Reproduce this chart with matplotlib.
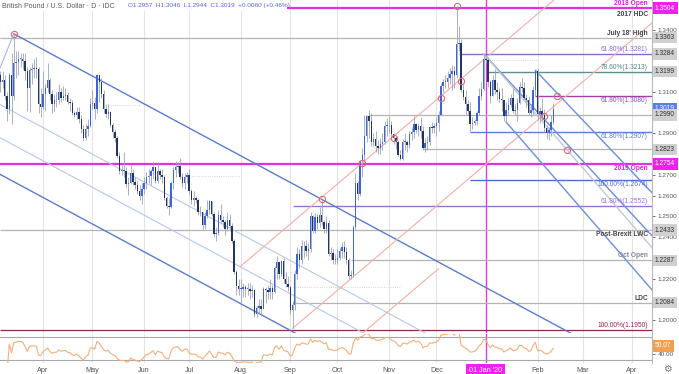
import numpy as np
import pandas as pd
import matplotlib
matplotlib.use('Agg')
import matplotlib.pyplot as plt
from matplotlib.patches import Rectangle
from matplotlib.transforms import blended_transform_factory

plt.rcParams['font.family'] = ['Liberation Sans', 'DejaVu Sans']

# GBP/USD daily bars, 5 Mar 2019 -> 12 Feb 2020 (weekdays)
first_open = 1.3180
closes = [
    # Mar
    1.3150, 1.3160, 1.3080, 1.3020, 1.3180, 1.3080, 1.3240, 1.3245, 1.3260, 1.3260,
    1.3250, 1.3200, 1.3120, 1.3205, 1.3210, 1.3215, 1.3210, 1.3040, 1.3030,
    # Apr
    1.3090, 1.3120, 1.3160, 1.3090, 1.3040, 1.3060, 1.3060, 1.3100, 1.3070, 1.3080,
    1.3085, 1.3050, 1.3045, 1.3000, 1.2990, 1.3005, 1.2970, 1.2920, 1.2880, 1.2920,
    1.2935, 1.3040,
    # May
    1.3045, 1.3020, 1.3180, 1.3150, 1.3090, 1.3020, 1.2995, 1.3005, 1.2940, 1.2905,
    1.2880, 1.2790, 1.2720, 1.2720, 1.2720, 1.2655, 1.2660, 1.2710, 1.2665, 1.2650,
    1.2620, 1.2600, 1.2630,
    # Jun
    1.2660, 1.2690, 1.2695, 1.2720, 1.2740, 1.2670, 1.2720, 1.2700, 1.2690, 1.2590,
    1.2550, 1.2545, 1.2660, 1.2725, 1.2740, 1.2745, 1.2690, 1.2660, 1.2690, 1.2700,
    # Jul
    1.2620, 1.2580, 1.2590, 1.2580, 1.2520, 1.2520, 1.2460, 1.2500, 1.2530, 1.2575,
    1.2510, 1.2415, 1.2420, 1.2505, 1.2480, 1.2475, 1.2440, 1.2480, 1.2455, 1.2380,
    1.2230, 1.2165, 1.2150,
    # Aug
    1.2150, 1.2160, 1.2150, 1.2150, 1.2140, 1.2145, 1.2030, 1.2060, 1.2065, 1.2055,
    1.2150, 1.2145, 1.2135, 1.2155, 1.2135, 1.2250, 1.2280, 1.2220, 1.2285, 1.2200,
    1.2175, 1.2160,
    # Sep
    1.2050, 1.2070, 1.2220, 1.2320, 1.2290, 1.2355, 1.2355, 1.2335, 1.2340, 1.2500,
    1.2430, 1.2495, 1.2470, 1.2505, 1.2475, 1.2440, 1.2470, 1.2320, 1.2325, 1.2290,
    1.2290,
    # Oct
    1.2300, 1.2335, 1.2350, 1.2330, 1.2290, 1.2210, 1.2215, 1.2450, 1.2660, 1.2610,
    1.2765, 1.2795, 1.2890, 1.2985, 1.2960, 1.2860, 1.2875, 1.2840, 1.2830, 1.2850,
    1.2860, 1.2935, 1.2940,
    # Nov
    1.2940, 1.2895, 1.2880, 1.2860, 1.2795, 1.2775, 1.2860, 1.2860, 1.2845, 1.2895,
    1.2905, 1.2945, 1.2915, 1.2935, 1.2910, 1.2830, 1.2855, 1.2860, 1.2930, 1.2925,
    1.2935,
    # Dec
    1.2950, 1.2990, 1.3130, 1.3150, 1.3150, 1.3170, 1.3185, 1.3200, 1.3180, 1.3330,
    1.3335, 1.3110, 1.3075, 1.3040, 1.3010, 1.2945, 1.2950, 1.2960, 1.3000, 1.3080,
    1.3115, 1.3260,
    # Jan
    1.3255, 1.3150, 1.3080, 1.3160, 1.3110, 1.3100, 1.3065, 1.3060, 1.2985, 1.3015,
    1.3035, 1.3070, 1.3010, 1.3015, 1.3045, 1.3125, 1.3120, 1.3070, 1.3060, 1.3000,
    1.3015, 1.3110, 1.3200,
    # Feb
    1.2995, 1.3010, 1.2990, 1.2925, 1.2900, 1.2915, 1.2957, 1.3019,
]
highs = [
    1.3200, 1.3200, 1.3180, 1.3100, 1.3190, 1.3290, 1.3381, 1.3300, 1.3300, 1.3290,
    1.3290, 1.3290, 1.3220, 1.3220, 1.3240, 1.3260, 1.3270, 1.3220, 1.3120,
    1.3200, 1.3140, 1.3240, 1.3170, 1.3110, 1.3090, 1.3100, 1.3140, 1.3120, 1.3130,
    1.3120, 1.3100, 1.3070, 1.3060, 1.3010, 1.3030, 1.3030, 1.2990, 1.2940, 1.2945,
    1.2970, 1.3070,
    1.3110, 1.3075, 1.3186, 1.3180, 1.3170, 1.3110, 1.3040, 1.3040, 1.3010, 1.2950,
    1.2920, 1.2890, 1.2810, 1.2750, 1.2810, 1.2740, 1.2690, 1.2750, 1.2730, 1.2690,
    1.2670, 1.2650, 1.2660,
    1.2690, 1.2715, 1.2730, 1.2730, 1.2760, 1.2740, 1.2760, 1.2730, 1.2730, 1.2700,
    1.2600, 1.2590, 1.2670, 1.2740, 1.2765, 1.2760, 1.2783, 1.2710, 1.2710, 1.2715,
    1.2730, 1.2630, 1.2620, 1.2600, 1.2590, 1.2550, 1.2520, 1.2520, 1.2580, 1.2580,
    1.2575, 1.2520, 1.2450, 1.2530, 1.2560, 1.2500, 1.2480, 1.2520, 1.2510, 1.2470,
    1.2390, 1.2240, 1.2200,
    1.2200, 1.2180, 1.2170, 1.2180, 1.2180, 1.2170, 1.2150, 1.2070, 1.2100, 1.2100,
    1.2160, 1.2160, 1.2170, 1.2200, 1.2170, 1.2260, 1.2310, 1.2280, 1.2290, 1.2300,
    1.2230, 1.2210,
    1.2165, 1.2090, 1.2240, 1.2350, 1.2340, 1.2385, 1.2380, 1.2385, 1.2370, 1.2520,
    1.2505, 1.2515, 1.2510, 1.2545, 1.2582, 1.2480, 1.2500, 1.2480, 1.2350, 1.2340,
    1.2320,
    1.2340, 1.2345, 1.2375, 1.2380, 1.2350, 1.2300, 1.2240, 1.2460, 1.2710, 1.2670,
    1.2770, 1.2830, 1.2990, 1.2990, 1.3013, 1.3000, 1.2900, 1.2910, 1.2870, 1.2880,
    1.2900, 1.2960, 1.2975,
    1.2985, 1.2960, 1.2900, 1.2890, 1.2870, 1.2820, 1.2875, 1.2900, 1.2870, 1.2910,
    1.2930, 1.2985, 1.2950, 1.2950, 1.2980, 1.2935, 1.2880, 1.2890, 1.2935, 1.2955,
    1.2950,
    1.2980, 1.3010, 1.3145, 1.3165, 1.3180, 1.3200, 1.3215, 1.3230, 1.3225, 1.3514,
    1.3420, 1.3355, 1.3140, 1.3110, 1.3060, 1.3050, 1.2980, 1.2970, 1.3010, 1.3120,
    1.3150, 1.3284,
    1.3270, 1.3270, 1.3160, 1.3180, 1.3210, 1.3150, 1.3120, 1.3120, 1.3060, 1.3050,
    1.3070, 1.3090, 1.3120, 1.3040, 1.3070, 1.3150, 1.3170, 1.3150, 1.3090, 1.3080,
    1.3040, 1.3130, 1.3205,
    1.3210, 1.3030, 1.3070, 1.3020, 1.2940, 1.2930, 1.2990, 1.3046,
]
lows = [
    1.3100, 1.3120, 1.3060, 1.2960, 1.2995, 1.2945, 1.3060, 1.3170, 1.3180, 1.3220,
    1.3210, 1.3160, 1.3010, 1.3005, 1.3140, 1.3170, 1.3170, 1.3000, 1.2980,
    1.3020, 1.3010, 1.3100, 1.3060, 1.3000, 1.3010, 1.3030, 1.3040, 1.3050, 1.3060,
    1.3060, 1.3040, 1.3010, 1.2990, 1.2980, 1.2970, 1.2950, 1.2900, 1.2866, 1.2870,
    1.2890, 1.2930,
    1.3020, 1.2970, 1.3000, 1.3050, 1.3070, 1.3000, 1.2980, 1.2970, 1.2930, 1.2880,
    1.2860, 1.2780, 1.2705, 1.2700, 1.2690, 1.2640, 1.2605, 1.2655, 1.2650, 1.2630,
    1.2610, 1.2580, 1.2560,
    1.2610, 1.2630, 1.2660, 1.2650, 1.2680, 1.2660, 1.2660, 1.2680, 1.2660, 1.2580,
    1.2540, 1.2506, 1.2540, 1.2630, 1.2690, 1.2710, 1.2680, 1.2640, 1.2630, 1.2660,
    1.2610, 1.2560, 1.2550, 1.2565, 1.2505, 1.2500, 1.2440, 1.2440, 1.2490, 1.2510,
    1.2500, 1.2400, 1.2380, 1.2410, 1.2470, 1.2450, 1.2410, 1.2430, 1.2430, 1.2370,
    1.2220, 1.2120, 1.2120,
    1.2080, 1.2110, 1.2110, 1.2120, 1.2100, 1.2110, 1.2015, 1.2015, 1.2030, 1.2020,
    1.2055, 1.2080, 1.2100, 1.2100, 1.2100, 1.2130, 1.2200, 1.2200, 1.2210, 1.2180,
    1.2160, 1.2140,
    1.2030, 1.1959, 1.2050, 1.2200, 1.2250, 1.2270, 1.2300, 1.2310, 1.2290, 1.2330,
    1.2420, 1.2420, 1.2440, 1.2450, 1.2460, 1.2420, 1.2420, 1.2310, 1.2290, 1.2270,
    1.2270,
    1.2270, 1.2290, 1.2300, 1.2300, 1.2270, 1.2196, 1.2200, 1.2205, 1.2440, 1.2580,
    1.2600, 1.2690, 1.2760, 1.2860, 1.2880, 1.2840, 1.2840, 1.2810, 1.2800, 1.2800,
    1.2820, 1.2850, 1.2890,
    1.2900, 1.2880, 1.2850, 1.2825, 1.2790, 1.2770, 1.2770, 1.2820, 1.2810, 1.2830,
    1.2870, 1.2880, 1.2900, 1.2890, 1.2880, 1.2820, 1.2810, 1.2820, 1.2845, 1.2900,
    1.2900,
    1.2890, 1.2910, 1.2990, 1.3100, 1.3120, 1.3120, 1.3140, 1.3110, 1.3120, 1.3170,
    1.3300, 1.3100, 1.3060, 1.2990, 1.2990, 1.2905, 1.2920, 1.2940, 1.2940, 1.2990,
    1.3060, 1.3110,
    1.3240, 1.3125, 1.3045, 1.3080, 1.3090, 1.3060, 1.3050, 1.3010, 1.2960, 1.2955,
    1.2990, 1.3030, 1.3000, 1.2990, 1.2960, 1.3040, 1.3100, 1.3060, 1.3030, 1.2990,
    1.2980, 1.2990, 1.3080,
    1.2965, 1.2950, 1.2960, 1.2905, 1.2875, 1.2870, 1.2890, 1.2944,
]

# horizontal levels
full_levels = [1.3504, 1.3363, 1.2754, 1.2433, 1.1950]
full_colors = ['#e62ee6', '#b4b4b4', '#e62ee6', '#b4b4b4', '#8e2a4a']
part_levels = [1.2990, 1.2823, 1.2287, 1.2084]
part_starts = ['2019-10-21', '2019-11-22', '2019-10-09', '2019-09-03']
fib_levels = [1.3284, 1.3199, 1.3080, 1.2907, 1.2674, 1.2552]
fib_starts = ['2019-12-16', '2020-01-02', '2020-01-31', '2019-12-23', '2019-12-23', '2019-09-03']
fib_colors = ['#8a6cc6', '#5e8f8f', '#a23fa8', '#5b7fd2', '#4f6fd0', '#9a72cc']

# trendline anchors (bar number, price)
chan_a = (6, 1.3381)        # Mar 13 high
chan_b = (143, 1.2582)      # Sep 20 high
chan_offsets = [0.0377, 0.0537, 0.0714]
red_slope = 0.000922
red_anchors = [(160.9, 1.2757), (130, 1.1959), (161.3, 1.1937)]
red_spans = [(106.6, 300), (130, 300), (161.3, 195)]
fork_anchors = [('2020-01-31', 1.3205), ('2019-12-31', 1.3284),
                ('2019-12-31', 1.3284), ('2020-01-14', 1.2955)]
fork_px_slopes = [1.05, 1.08, 1.15, 1.15]
fork_colors = ['#6f8fd6', '#6f8fd6', '#c4c8d4', '#6f8fd6']

pivot_x = [6, 143, 160.9, 175.1, 196, 205, 203, 247.8, 241.9, 252]
pivot_y = [1.3381, 1.2582, 1.2757, 1.2878, 1.3071, 1.3153, 1.3514, 1.3080, 1.2986, 1.2820]

right_tags = [(1.3504, '#f020f0', 'white'), (1.3363, '#d0d0d0', '#333333'),
              (1.3284, '#d0d0d0', '#333333'), (1.3199, '#d0d0d0', '#333333'),
              (1.3019, '#5b7fe0', 'white'), (1.2990, '#d0d0d0', '#333333'),
              (1.2823, '#d0d0d0', '#333333'), (1.2754, '#f020f0', 'white'),
              (1.2433, '#d0d0d0', '#333333'), (1.2287, '#d0d0d0', '#333333'),
              (1.2084, '#d0d0d0', '#333333')]
# axis prices left visible between the level tags
price_ticks = [1.20, 1.22, 1.24, 1.25, 1.26, 1.27, 1.29, 1.31, 1.34]
rsi_last = 50.07

month_names = ['Apr', 'May', 'Jun', 'Jul', 'Aug', 'Sep', 'Oct', 'Nov', 'Dec',
               "01 Jan '20", 'Feb', 'Mar', 'Apr']

W, H = 679, 374
fig = plt.figure(figsize=(W / 100, H / 100), dpi=100)


def rect(x0, y0, x1, y1):
    return [x0 / W, 1 - y1 / H, (x1 - x0) / W, (y1 - y0) / H]


ax = fig.add_axes(rect(0, 0, 652, 333))
axr = fig.add_axes(rect(0, 334, 652, 363), sharex=ax)

days = pd.bdate_range('2019-03-05', '2020-04-30')
n = len(closes)
x = np.arange(n)
c = np.array(closes)
o = np.r_[first_open, c[:-1]]
hi = np.array(highs)
lo = np.array(lows)


def bar_of(d):
    return float(days.get_loc(pd.Timestamp(d)))


XL, XR = -0.13, 289.9
YB, YT = 1.19370, 1.35441

# month grid
mpos = []
for m in pd.date_range('2019-04-01', '2020-04-01', freq='MS'):
    mpos.append(float(np.searchsorted(days, m)))
for p, name in zip(mpos, month_names):
    if name.startswith('01'):
        continue
    ax.axvline(p, color='#e4e4e4', lw=0.8, zorder=0)
    axr.axvline(p, color='#e4e4e4', lw=0.8, zorder=0)
jan = bar_of('2020-01-01')
ax.axvline(jan, color='#e23be2', lw=1.0, zorder=1)
axr.axvline(jan, color='#e23be2', lw=1.0, zorder=1)

# levels
for lv, col in zip(full_levels, full_colors):
    lw = 1.6 if col == '#e62ee6' else 0.9
    ax.hlines(lv, XL, XR + 5, color=col, lw=lw, zorder=2)
for lv, st in zip(part_levels, part_starts):
    ax.hlines(lv, bar_of(st), XR + 5, color='#b4b4b4', lw=0.9, zorder=2)
for lv, st, col in zip(fib_levels, fib_starts, fib_colors):
    ax.hlines(lv, bar_of(st), XR + 5, color=col, lw=1.0, zorder=2)

# faint dotted guides
ax.hlines(1.2695, 85.3, 106.6, color='#c8c8c8', lw=0.6, ls=':', zorder=1)
ax.hlines(1.2159, 130.2, 177.8, color='#c8c8c8', lw=0.6, ls=':', zorder=1)
ax.hlines(1.3037, 48.8, 62.1, color='#c8c8c8', lw=0.6, ls=':', zorder=1)
ax.hlines(1.3255, 215.6, 238.8, color='#c8c8c8', lw=0.6, ls=':', zorder=1)

# descending channel
slope = (chan_b[1] - chan_a[1]) / (chan_b[0] - chan_a[0])
xs = np.array([chan_a[0], 320])
ax.plot(xs, chan_a[1] + slope * (xs - chan_a[0]), color='#5b7cc8', lw=1.0, zorder=2)
xs = np.array([XL - 1, 320])
for off, col, lw in zip(chan_offsets, ['#b9c7e6', '#b9c7e6', '#5b7cc8'], [0.8, 0.8, 1.0]):
    ax.plot(xs, chan_a[1] - off + slope * (xs - chan_a[0]), color=col, lw=lw, zorder=2)
ax.plot([chan_a[0], XL], [chan_a[1], 1.3216], color='#9db0d8', lw=0.7, zorder=2)

# ascending red lines
for (ax0, ay0), (s0, s1) in zip(red_anchors, red_spans):
    xs = np.array([s0, s1])
    ax.plot(xs, ay0 + red_slope * (xs - ax0), color='#f2b0a8', lw=0.8, zorder=2)

# descending fork lines
for (d, py), s, col in zip(fork_anchors, fork_px_slopes, fork_colors):
    b0 = bar_of(d)
    ps = -s * 2.248 / 2072
    xs = np.array([b0, 320])
    ax.plot(xs, py + ps * (xs - b0), color=col, lw=1.0, zorder=2)

# candles
up = c >= o
ax.vlines(x, lo, hi, color='#9aa3b8', lw=0.6, zorder=3)
ax.bar(x, np.maximum(np.abs(c - o), 0.0003), bottom=np.minimum(o, c), width=0.62,
       color=np.where(up, '#3d64d8', '#27345c'), lw=0, zorder=4)

ax.plot(pivot_x, pivot_y, 'o', ms=4.5, mfc='none', mec='#e06878', mew=0.8, zorder=6)

# level labels
XT = 288.1
labels = [
    ('2018 Open', 1.3504, 'bottom', 1, '#e020e0', 'bold'),
    ('2017 HDC', 1.3504, 'top', -3, '#444444', 'bold'),
    ("July 18' High", 1.3363, 'bottom', 1, '#444444', 'bold'),
    ('61.80%(1.3281)', 1.3284, 'bottom', 1, '#8a6cc6', 'normal'),
    ('78.60%(1.3213)', 1.3199, 'bottom', 1, '#4f8585', 'normal'),
    ('61.80%(1.3080)', 1.3080, 'top', -1, '#8a52b8', 'normal'),
    ('61.80%(1.2907)', 1.2907, 'top', -1, '#5b7fd2', 'normal'),
    ('2019 Open', 1.2754, 'top', -1, '#e020e0', 'bold'),
    ('100.00%(1.2674)', 1.2674, 'top', -1, '#4f6fd0', 'normal'),
    ('61.80%(1.2552)', 1.2552, 'bottom', 1, '#9a72cc', 'normal'),
    ('Post-Brexit LWC', 1.2433, 'top', -1, '#444444', 'bold'),
    ('Oct Open', 1.2287, 'bottom', 1, '#7c8898', 'bold'),
    ('LDC', 1.2084, 'bottom', 1, '#444444', 'bold'),
    ('100.00%(1.1950)', 1.1950, 'bottom', 1, '#8e2a4a', 'normal'),
]
for txt, lv, va, dy, col, wt in labels:
    ax.annotate(txt, (XT, lv), xytext=(0, dy), textcoords='offset pixels',
                ha='right', va=va, fontsize=4.8, color=col, fontweight=wt, zorder=7)

ax.set_xlim(XL, XR)
ax.set_ylim(YB, YT)
ax.yaxis.tick_right()
ax.set_yticks(price_ticks)
ax.yaxis.set_major_formatter(plt.FuncFormatter(lambda v, p: f'{v:.4f}'))
ax.tick_params(axis='y', length=2.5, width=0.6, pad=1.5, labelsize=4.6,
               colors='#555555')
ax.tick_params(axis='x', bottom=False, labelbottom=False)
for s in ['top', 'left', 'bottom']:
    ax.spines[s].set_visible(False)
ax.spines['right'].set_color('#b8b8b8')
ax.spines['right'].set_linewidth(0.8)

tr = blended_transform_factory(ax.transAxes, ax.transData)
for lv, fc, tc in right_tags:
    ax.text(1 + 3 / 652, lv, f'{lv:.4f}', transform=tr, ha='left', va='center',
            fontsize=4.8, color=tc, clip_on=False, zorder=10,
            bbox=dict(boxstyle='square,pad=0.35', fc=fc, ec='none'))

# RSI pane
s = pd.Series(closes)
d = s.diff()
g = d.clip(lower=0).ewm(alpha=1 / 14, adjust=True).mean()
l = (-d.clip(upper=0)).ewm(alpha=1 / 14, adjust=True).mean()
rsi = 100 - 100 / (1 + g / l)
axr.plot(x[2:], rsi.values[2:], color='#f0b07c', lw=0.8, zorder=3)
axr.axhline(70, color='#a8a8a8', lw=0.8)
axr.axhline(30, color='#a8a8a8', lw=0.8)
axr.set_ylim(23.8, 75.3)
axr.yaxis.tick_right()
axr.set_yticks([40])
axr.set_yticklabels(['40.00'])
axr.tick_params(axis='y', length=2.5, width=0.6, pad=1.5, labelsize=4.6,
                colors='#555555')
for sp in ['top', 'left', 'bottom']:
    axr.spines[sp].set_visible(False)
axr.spines['right'].set_color('#b8b8b8')
axr.spines['right'].set_linewidth(0.8)
trr = blended_transform_factory(axr.transAxes, axr.transData)
axr.text(1 + 3 / 652, rsi_last + 4, f'{rsi_last:.2f}', transform=trr, ha='left',
         va='center', fontsize=4.8, color='white', clip_on=False, zorder=10,
         bbox=dict(boxstyle='square,pad=0.35', fc='#f0a050', ec='none'))

ticks = [p for p, nm in zip(mpos, month_names) if not nm.startswith('01')]
tlabs = [nm for nm in month_names if not nm.startswith('01')]
axr.set_xticks(ticks)
axr.set_xticklabels(tlabs)
axr.tick_params(axis='x', length=0, pad=3, labelsize=5.2, colors='#555555')
axr.text(jan, -0.25, "01 Jan '20", transform=blended_transform_factory(axr.transData, axr.transAxes),
         ha='center', va='center', fontsize=5.2, color='white', clip_on=False, zorder=10,
         bbox=dict(boxstyle='square,pad=0.4', fc='#f020f0', ec='none'))
fig.text(667 / W, 1 - 369 / H, '\u2699', ha='center', va='center', fontsize=7,
         color='#777777')

# header
fig.add_artist(Rectangle((0, 1 - 11 / H), 287 / W, 11 / H, transform=fig.transFigure,
                         fc='white', ec='none', zorder=2))
fig.text(2 / W, 1 - 6 / H, 'British Pound / U.S. Dollar \u00b7 D \u00b7 IDC',
         fontsize=5, color='#5a5a5a', va='center', zorder=3)
fig.text(128 / W, 1 - 6 / H, 'O1.2957  H1.3046  L1.2944  C1.3019  +0.0060 (+0.46%)',
         fontsize=4.6, color='#5566c8', va='center', zorder=3)

fig.savefig('out.png', dpi=100)
